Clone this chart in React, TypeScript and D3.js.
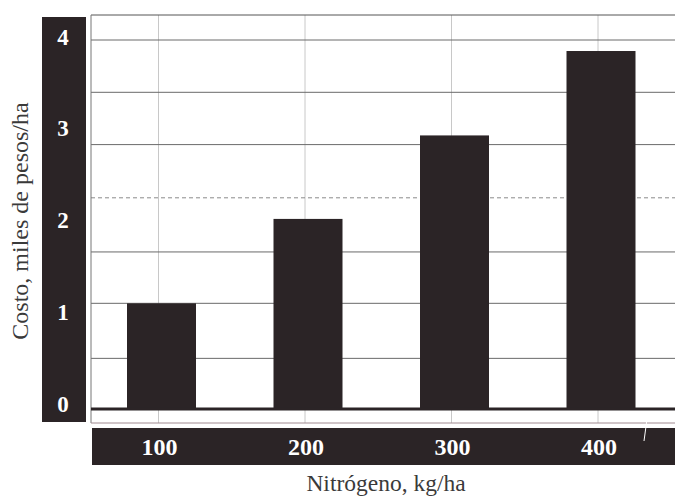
import React from "react";
import * as d3 from "d3";

const categories = [100, 200, 300, 400];
const costs = [1.13, 2.05, 2.96, 3.88];
const yTickValues = [0, 1, 2, 3, 4];
const hGridValues = [4.0, 3.43, 2.86, 1.69, 1.13, 0.53];
const hDashedValues = [2.28];

const W = 675;
const H = 497;
const plotLeft = 91;
const plotTop = 15;
const baseY = 409;
const dark = "#2b2426";
const serif = "'Liberation Serif', 'Times New Roman', serif";

export default function App() {
  const x = d3.scaleLinear().domain([100, 400]).range([161.5, 601]);
  const y = d3.scaleLinear().domain([0, 4]).range([407, 40]);
  const barW = 69;

  return (
    <svg
      width={W}
      height={H}
      style={{ position: "absolute", left: 0, top: 0, background: "#fff" }}
      fontFamily={serif}
    >
      <rect x={0} y={0} width={W} height={H} fill="#fff" />
      {/* vertical gridlines */}
      {categories.map((c) => (
        <line key={"v" + c} x1={x(c) - 3} x2={x(c) - 3} y1={plotTop} y2={423} stroke="#c8c8c8" strokeWidth={1} />
      ))}
      {/* horizontal gridlines */}
      {hGridValues.map((v) => (
        <line key={"h" + v} x1={plotLeft} x2={W} y1={y(v)} y2={y(v)} stroke="#6a6a6a" strokeWidth={1} />
      ))}
      {hDashedValues.map((v) => (
        <line key={"d" + v} x1={plotLeft} x2={W} y1={y(v)} y2={y(v)} stroke="#8a8a8a" strokeWidth={1} strokeDasharray="4,3" />
      ))}
      {/* frame */}
      <line x1={plotLeft} x2={W} y1={plotTop} y2={plotTop} stroke="#555" strokeWidth={1} />
      <line x1={plotLeft} x2={plotLeft} y1={plotTop} y2={423} stroke="#777" strokeWidth={1} />
      <line x1={plotLeft} x2={W} y1={423} y2={423} stroke="#a08a90" strokeWidth={1} />
      {/* bars */}
      {categories.map((c, i) => (
        <rect key={"b" + c} x={x(c) - barW / 2} y={y(costs[i])} width={barW} height={baseY - y(costs[i])} fill={dark} />
      ))}
      {/* baseline */}
      <line x1={plotLeft} x2={W} y1={baseY} y2={baseY} stroke={dark} strokeWidth={3} />
      {/* y band */}
      <rect x={42} y={17} width={44} height={405} fill={dark} />
      {yTickValues.map((v) => (
        <text key={"yt" + v} x={63} y={y(v) - 3} fill="#fff" fontSize={23} fontWeight="bold" textAnchor="middle" dominantBaseline="central">
          {v}
        </text>
      ))}
      {/* x band */}
      <rect x={92} y={428} width={W - 92} height={37} fill={dark} />
      {categories.map((c) => (
        <text key={"xt" + c} x={x(c) - 2} y={447} fill="#fff" fontSize={24} fontWeight="bold" textAnchor="middle" dominantBaseline="central">
          {c}
        </text>
      ))}
      <line x1={644} x2={647} y1={441} y2={419} stroke="#fff" strokeWidth={1} />
      {/* axis titles */}
      <text x={386} y={491} fontSize={23.5} fill="#3a3a3a" textAnchor="middle">
        Nitrógeno, kg/ha
      </text>
      <text transform="translate(28,221) rotate(-90)" fontSize={24} fill="#3a3a3a" textAnchor="middle">
        Costo, miles de pesos/ha
      </text>
    </svg>
  );
}
